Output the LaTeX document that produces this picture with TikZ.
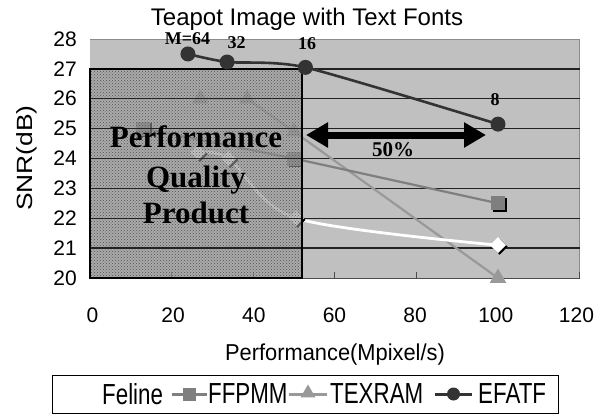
\documentclass[tikz,border=0pt]{standalone}
\usepackage{fontspec}
\setmainfont{Liberation Sans}
\newfontfamily\timesf{Liberation Serif}
\newfontfamily\legf[FakeStretch=0.77]{Liberation Sans}
\newfontfamily\axf[FakeStretch=0.95]{Liberation Sans}
\newfontfamily\snrf[FakeStretch=1.2]{Liberation Sans}
\usetikzlibrary{patterns,arrows.meta,shapes.geometric,shadows}
\definecolor{plotbg}{HTML}{C0C0C0}
\definecolor{hatchbg}{HTML}{9C9C9C}
\definecolor{hatchfg}{HTML}{505050}
\definecolor{efc}{HTML}{333333}
\definecolor{ffc}{HTML}{7F7F7F}
\definecolor{txc}{HTML}{999999}
\definecolor{gridc}{HTML}{222222}
\definecolor{framec}{HTML}{8C8C8C}
\tikzset{
  ticklab/.style={font=\fontsize{21}{21}\selectfont, inner sep=0pt},
  bigtext/.style={font=\timesf\bfseries\fontsize{31}{31}\selectfont, inner sep=0pt, anchor=base},
  ptlab/.style={font=\timesf\bfseries\fontsize{18}{18}\selectfont, inner sep=0pt},
  legtext/.style={font=\legf\fontsize{29}{29}\selectfont, inner sep=0pt, anchor=west},
  gridline/.style={draw=gridc, line width=1.4pt},
  efline/.style={draw=efc, line width=2.6pt},
  ffline/.style={draw=ffc, line width=2.2pt},
  txline/.style={draw=txc, line width=2.2pt},
  feline/.style={draw=white, line width=2.8pt},
  shad/.style={drop shadow={shadow xshift=1.6pt, shadow yshift=-1.6pt, fill=black, opacity=1}},
  efmark/.style={circle, fill=efc, minimum size=15pt, inner sep=0pt},
  ffmark/.style={rectangle, fill=ffc, minimum size=14pt, inner sep=0pt, shad},
  txmark/.style={regular polygon, regular polygon sides=3, fill=txc, minimum size=19pt, inner sep=0pt},
  flmark/.style={diamond, fill=white, minimum size=16pt, inner sep=0pt, shad},
  bigarrow/.style={draw=black, line width=7pt, {Triangle[length=22pt,width=24pt]}-{Triangle[length=22pt,width=24pt]}},
}
\begin{document}
\begin{tikzpicture}[x=1pt,y=-1pt]
\useasboundingbox (0,0) rectangle (612,415);
\fill[white] (0,0) rectangle (612,415);

% title
\node[inner sep=0pt, anchor=base, font=\fontsize{24}{24}\selectfont] (title) at (307,25) {Teapot Image with Text Fonts};

% y axis title
\node[inner sep=0pt, rotate=90, font=\snrf\fontsize{22}{22}\selectfont] (ytitle) at (27,158) {SNR(dB)};

% x axis title
\node[inner sep=0pt, font=\axf\fontsize{23}{23}\selectfont] (xtitle) at (335,355) {Performance(Mpixel/s)};

% y tick labels
\foreach \v [count=\i from 0] in {20,...,28}
  \node[ticklab, anchor=east] (yl\v) at (77,{278-29.875*\i}) {\v};
% x tick labels
\foreach \v in {0,20,...,120}
  \node[ticklab] (xl\v) at ({92.5+4.033*\v},315) {\v};

\begin{scope}[shift={(90,278)}, x=4.08pt, y=29.875pt]
  % plot area
  \fill[plotbg] (0,0) rectangle (120,8);
  \draw[framec, line width=0.9pt] (0,8) -- (120,8) -- (120,0);
  \foreach \g in {1,...,7} \draw[gridline] (0,\g) -- (120,\g);
  \draw[black!70, line width=1pt] (0,0) -- (120,0);
  \foreach \t in {20,40,...,120} \draw[black!70, line width=1pt] (\t,0) -- ++(0pt,6pt);

  % data coordinates
  \coordinate (e1) at (24,7.5);
  \coordinate (e2) at (33.6,7.23);
  \coordinate (e3) at (52.8,7.05);
  \coordinate (e4) at (100,5.15);
  \coordinate (f1) at (13,5);
  \coordinate (f2) at (50,4);
  \coordinate (f3) at (100,2.5);
  \coordinate (t1) at (27,6);
  \coordinate (t2) at (38.5,6);
  \coordinate (t3) at (50,4.9);
  \coordinate (t4) at (100,0);
  \coordinate (l1) at (26.5,4.2);
  \coordinate (l2) at (34,4);
  \coordinate (l3) at (50.5,2);
  \coordinate (l4) at (100,1.1);

  % series under the shaded block
  \draw[txline] (t1) -- (t2) -- (t3) -- (t4);
  \draw[ffline] (f1) -- (f2) -- (f3);
  \draw[feline] plot[smooth, tension=0.5] coordinates {(l1) (l2) (l3) (l4)};
  \node[txmark] (T1) at (t1) {};
  \node[txmark] (T2) at (t2) {};
  \node[txmark] (T3) at (t3) {};
  \node[txmark] (T4) at (t4) {};
  \node[ffmark] (F1) at (f1) {};
  \node[ffmark] (F2) at (f2) {};
  \node[ffmark] (F3) at (f3) {};
  \node[flmark] (L1) at (l1) {};
  \node[flmark] (L2) at (l2) {};
  \node[flmark] (L3) at (l3) {};
  \node[flmark] (L4) at (l4) {};

  % shaded block
  \fill[hatchbg, fill opacity=0.6] (0,0) rectangle (52,7);
  \fill[pattern=crosshatch dots, pattern color=hatchfg] (0,0) rectangle (52,7);
  \begin{scope}
    \clip (0,0) rectangle (52,7);
    \foreach \g in {1,...,6} \draw[gridline] (0,\g) -- (52,\g);
  \end{scope}
  \draw[black, line width=2pt] (0,0) rectangle (52,7);

  % EFATF on top
  \draw[efline] plot[smooth, tension=0.4] coordinates {(e1) (e2) (e3) (e4)};
  \node[efmark] (E1) at (e1) {};
  \node[efmark] (E2) at (e2) {};
  \node[efmark] (E3) at (e3) {};
  \node[efmark] (E4) at (e4) {};
\end{scope}

% point labels
\node[ptlab] (m64) at (187.5,39) {M=64};
\node[ptlab] (m32) at (236.5,42.5) {32};
\node[ptlab] (m16) at (307,44) {16};
\node[ptlab] (m8) at (495,99.5) {8};

% overlay texts
\node[bigtext] (perf) at (196,147) {Performance};
\node[bigtext] (qual) at (196,187) {Quality};
\node[bigtext] (prod) at (196,223) {Product};

% 50% arrow
\coordinate (aL) at (306,135);
\coordinate (aR) at (486,135);
\draw[bigarrow] (aL) -- (aR);
\node[font=\timesf\bfseries\fontsize{21}{21}\selectfont, inner sep=0pt] (pct) at (393,150) {50\%};

% legend
\draw[black, line width=1pt] (52,375) rectangle (558,413);
\node[legtext] (lg1) at (102,394) {Feline};
\coordinate (la1) at (172,394);
\coordinate (lb1) at (207,394);
\draw[ffline, line width=3pt] (la1) -- (lb1);
\node[rectangle, fill=ffc, minimum size=13pt, inner sep=0pt] (lm1) at (189.5,394) {};
\node[legtext] (lg2) at (208,394) {FFPMM};
\coordinate (la2) at (289,394);
\coordinate (lb2) at (327,394);
\draw[txline, line width=3pt] (la2) -- (lb2);
\node[regular polygon, regular polygon sides=3, fill=txc, minimum size=17pt, inner sep=0pt] (lm2) at (308,393) {};
\node[legtext] (lg3) at (330,394) {TEXRAM};
\coordinate (la3) at (435,394);
\coordinate (lb3) at (472,394);
\draw[efline, line width=3pt] (la3) -- (lb3);
\node[circle, fill=efc, minimum size=13pt, inner sep=0pt] (lm3) at (453.5,394) {};
\node[legtext] (lg4) at (478,394) {EFATF};
\end{tikzpicture}
\end{document}
